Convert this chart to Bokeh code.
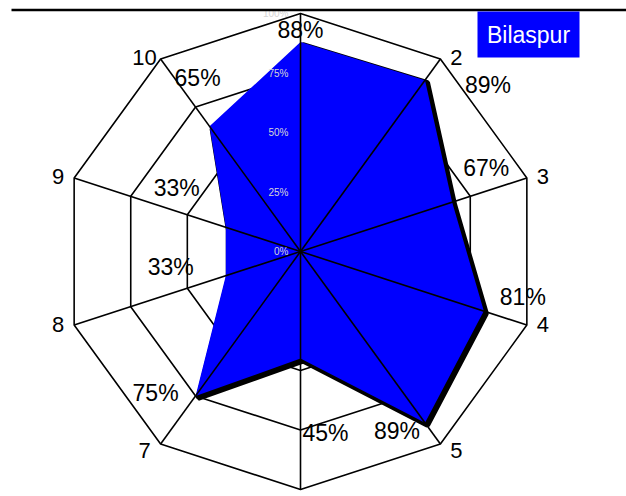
import numpy as np
from bokeh.plotting import figure
from bokeh.models import Range1d
from bokeh.embed import file_html
from bokeh.resources import INLINE
from bokeh.core.properties import value

# ---- data ----
axes_names = ["1", "2", "3", "4", "5", "6", "7", "8", "9", "10"]
bilaspur = [88, 89, 67, 81, 89, 45, 75, 33, 33, 65]
levels = [0, 25, 50, 75, 100]
series_name = "Bilaspur"

# ---- layout (1 data unit == 1 screen px) ----
W, H = 626, 496
CX, CY = 300, 251
R = 238
FONT = value("Liberation Sans")

p = figure(width=W, height=H, x_range=Range1d(-CX, W - CX), y_range=Range1d(CY - H, CY),
           output_backend="svg", toolbar_location=None, min_border=0)
p.axis.visible = False
p.grid.visible = False
p.outline_line_color = None
p.background_fill_color = "white"
p.border_fill_color = "white"

n = len(axes_names)
theta = np.arange(n) * 2 * np.pi / n
ux, uy = np.sin(theta), np.cos(theta)

# rings
for lv in levels[1:]:
    r = R * lv / 100
    p.patch(list(r * ux), list(r * uy), fill_color=None, line_color="black", line_width=1.6)

# polygon with shadow
vals = np.array(bilaspur) / 100.0
px, py = R * vals * ux, R * vals * uy
p.patch(list(px + 2.5), list(py - 2.5), fill_color="black", line_color="black", line_width=5)
p.patch(list(px), list(py), fill_color="#0000ff", line_color=None)

# spokes
p.segment(x0=[0] * n, y0=[0] * n, x1=list(R * ux), y1=list(R * uy), line_color="black", line_width=1.6)

# level labels (top one nudged inside the frame)
lvl_y = [min(R * lv / 100, CY - 6) for lv in levels]
p.text(x=[-12] * len(levels), y=lvl_y, text=[f"{lv}%" for lv in levels],
       text_align="right", text_baseline="middle", text_font=FONT, text_font_size="10px",
       text_color="#d6d6d6")

# value labels (screen-pixel offsets from each data vertex)
label_dx = [0, 63, 34, 39, -28, 25, -40, -55, -49, -12]
label_dy = [-12, 5, -34, -14, 8, 74, -3, -9, -39, -48]
p.text(x=list(px + np.array(label_dx)), y=list(py - np.array(label_dy)),
       text=[f"{v}%" for v in bilaspur], text_align="center", text_baseline="middle",
       text_font=FONT, text_font_size="23px", text_color="black")

# axis labels (only those that land inside the frame, as in the reference)
sgn = np.sign(np.round(ux, 6))
ax_dx = 16 * sgn
ax_dy = np.where(np.abs(sgn) < 0.5, -16 * np.sign(uy), np.where(uy < -0.5, 6, -1))
lx = R * ux + ax_dx
ly = R * uy - ax_dy
inside = (ly + 12 < CY) & (ly - 12 > CY - H)
p.text(x=list(lx[inside]), y=list(ly[inside]), text=[a for a, k in zip(axes_names, inside) if k],
       text_align="center", text_baseline="middle", text_font=FONT, text_font_size="22px",
       text_color="black")

# top rule
p.segment(x0=[-289], y0=[241.5], x1=[W - CX], y1=[241.5], line_color="black", line_width=2.5)

# legend box
p.quad(left=[177], right=[279], top=[240], bottom=[194], fill_color="#0000ff", line_color=None)
p.text(x=[228], y=[217], text=[series_name], text_align="center", text_baseline="middle",
       text_font=FONT, text_font_size="23px", text_color="white")

open("out.html", "w").write(file_html(p, INLINE))
